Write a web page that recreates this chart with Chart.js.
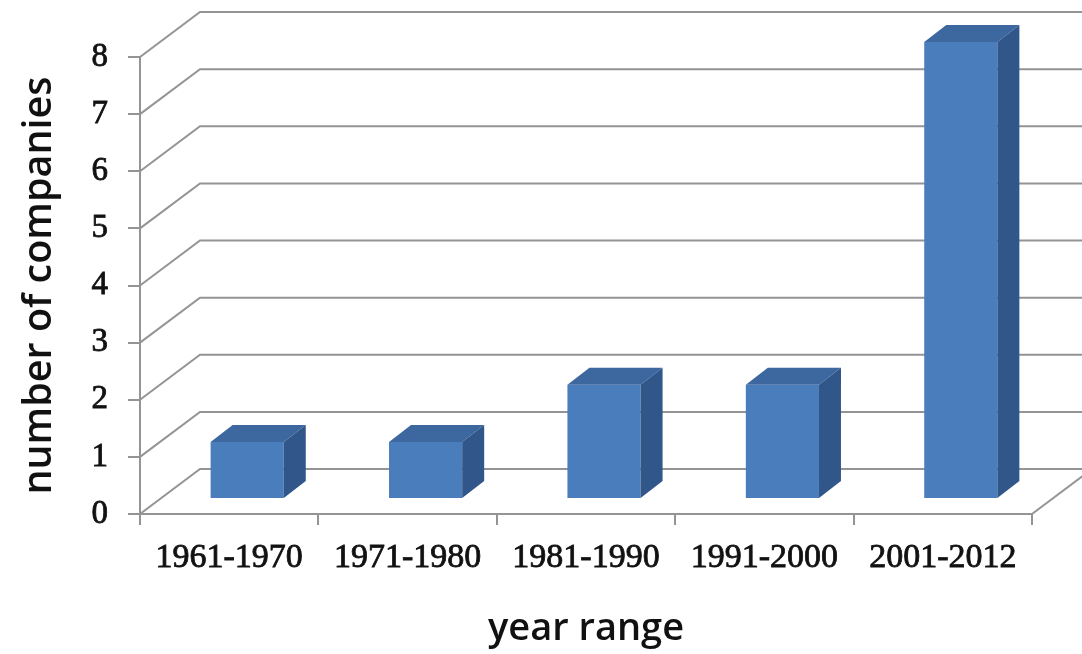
<!DOCTYPE html>
<html lang="en">

<head>
  <meta charset="UTF-8">
  <title>number of companies</title>
  <style>
    html,
    body {
      margin: 0;
      padding: 0;
      background: #fff;
    }

    #chart {
      display: block;
    }
  </style>
</head>

<body>
  <canvas id="chart" width="1082" height="654"></canvas>

  <script src="https://cdn.jsdelivr.net/npm/chart.js"></script>
  <script>
    // 기간별 회사 수
    const yearRanges = ['1961-1970', '1971-1980', '1981-1990', '1991-2000', '2001-2012'];
    const companyCounts = [1, 1, 2, 2, 8];
    const yTicks = [0, 1, 2, 3, 4, 5, 6, 7, 8];

    const GRID = '#949494';
    const TEXT = '#111111';
    const FRONT = '#4a7dbb';
    const TOP = '#3c679f';
    const SIDE = '#30568a';

    // 3D 깊이 (뒷벽, 막대 앞면, 막대 두께)
    const WALL_DX = 60, WALL_DY = -45;
    const BAR_DX = 18, BAR_DY = -15;
    const SIDE_DX = 22, SIDE_DY = -17;

    // 뒷벽 눈금선 + 막대 윗면/옆면
    const box3d = {
      id: 'box3d',
      beforeDatasetsDraw(chart) {
        const { ctx, scales: { x, y } } = chart;
        ctx.save();
        ctx.strokeStyle = GRID;
        ctx.lineWidth = 2;
        y.ticks.forEach(t => {
          const py = y.getPixelForValue(t.value);
          ctx.beginPath();
          ctx.moveTo(x.left, py);
          ctx.lineTo(x.left + WALL_DX, py + WALL_DY);
          ctx.lineTo(x.right + WALL_DX, py + WALL_DY);
          ctx.stroke();
        });
        // 바닥 오른쪽 모서리
        const py0 = y.getPixelForValue(yTicks[0]);
        ctx.beginPath();
        ctx.moveTo(x.right, py0);
        ctx.lineTo(x.right + WALL_DX, py0 + WALL_DY);
        ctx.stroke();
        ctx.restore();

        // 막대 앞면은 안쪽으로 조금 밀어서 그림
        ctx.save();
        ctx.translate(BAR_DX, BAR_DY);
      },
      afterDatasetsDraw(chart) {
        const ctx = chart.ctx;
        ctx.restore();
        chart.getDatasetMeta(0).data.forEach(bar => {
          const L = bar.x - bar.width / 2 + BAR_DX;
          const R = bar.x + bar.width / 2 + BAR_DX;
          const T = bar.y + BAR_DY;
          const B = bar.base + BAR_DY;

          ctx.fillStyle = TOP;
          ctx.beginPath();
          ctx.moveTo(L, T);
          ctx.lineTo(L + SIDE_DX, T + SIDE_DY);
          ctx.lineTo(R + SIDE_DX, T + SIDE_DY);
          ctx.lineTo(R, T);
          ctx.closePath();
          ctx.fill();

          ctx.fillStyle = SIDE;
          ctx.beginPath();
          ctx.moveTo(R, T);
          ctx.lineTo(R + SIDE_DX, T + SIDE_DY);
          ctx.lineTo(R + SIDE_DX, B + SIDE_DY);
          ctx.lineTo(R, B);
          ctx.closePath();
          ctx.fill();
        });
      }
    };

    const ctx = document.getElementById('chart');

    new Chart(ctx, {
      type: 'bar',
      plugins: [box3d],
      data: {
        labels: yearRanges,
        datasets: [{
          data: companyCounts,
          backgroundColor: FRONT,
          borderWidth: 0,
          barPercentage: 0.41,
          categoryPercentage: 1,
          clip: false
        }]
      },
      options: {
        responsive: false,
        animation: false,
        layout: {
          padding: { top: 57, right: 50, bottom: 0, left: 0 }
        },
        plugins: {
          legend: { display: false },
          tooltip: { enabled: false }
        },
        scales: {
          x: {
            grid: {
              drawOnChartArea: false,
              tickLength: 11,
              color: GRID,
              lineWidth: 2
            },
            border: { color: GRID, width: 2 },
            ticks: {
              font: { family: 'Liberation Serif', size: 34 },
              color: TEXT,
              textStrokeColor: TEXT,
              textStrokeWidth: 0.8,
              padding: 13,
              maxRotation: 0,
              autoSkip: false
            },
            title: {
              display: true,
              text: 'year range',
              font: { family: 'Open Sans', size: 38, weight: '600' },
              color: TEXT,
              padding: { top: 0, bottom: 2 }
            },
            afterFit(scale) {
              scale.height = 140;
            }
          },
          y: {
            min: yTicks[0],
            max: yTicks[yTicks.length - 1],
            afterBuildTicks(scale) {
              scale.ticks = yTicks.map(v => ({ value: v }));
            },
            grid: {
              drawOnChartArea: false,
              tickLength: 12,
              color: GRID,
              lineWidth: 2
            },
            border: { color: GRID, width: 2 },
            ticks: {
              font: { family: 'Liberation Serif', size: 33 },
              color: TEXT,
              textStrokeColor: TEXT,
              textStrokeWidth: 0.8,
              padding: 20
            },
            title: {
              display: true,
              text: 'number of companies',
              font: { family: 'Open Sans', size: 39.5, weight: '600' },
              color: TEXT,
              padding: { top: 16, bottom: 0 }
            },
            afterFit(scale) {
              scale.width = 140;
            }
          }
        }
      }
    });
  </script>
</body>

</html>
